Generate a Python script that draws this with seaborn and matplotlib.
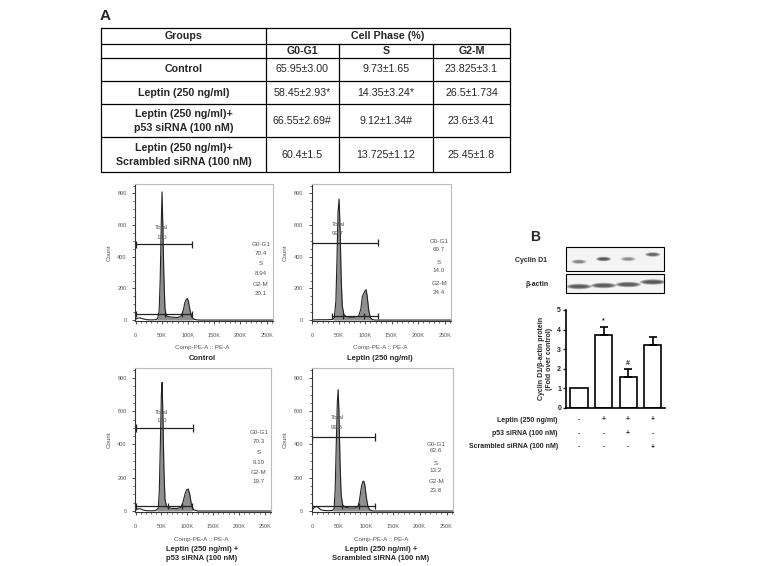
import numpy as np
import matplotlib
matplotlib.use('Agg')
import matplotlib.pyplot as plt
import matplotlib.transforms as mtrans
from matplotlib.patches import Rectangle, Ellipse
import seaborn as sns

# ---- table A ----
groups = ["Control", "Leptin (250 ng/ml)", "Leptin (250 ng/ml)+\np53 siRNA (100 nM)",
          "Leptin (250 ng/ml)+\nScrambled siRNA (100 nM)"]
phases = ["G0-G1", "S", "G2-M"]
g0g1 = ["65.95±3.00", "58.45±2.93*", "66.55±2.69#", "60.4±1.5"]
s_phase = ["9.73±1.65", "14.35±3.24*", "9.12±1.34#", "13.725±1.12"]
g2m = ["23.825±3.1", "26.5±1.734", "23.6±3.41", "25.45±1.8"]

# ---- flow histograms (x in K, counts) ----
ctrl_x = [0, 4, 8, 12, 16, 22, 30, 38, 42, 45, 47, 49, 50.5, 52, 54, 56, 58, 62, 70, 80, 87, 91, 94, 97, 99, 101, 104, 107, 112, 120, 262]
ctrl_y = [4, 12, 14, 10, 6, 2, 1, 2, 8, 60, 250, 600, 810, 600, 280, 80, 30, 22, 18, 16, 25, 60, 110, 132, 136, 115, 60, 20, 4, 0, 0]
lep_x = [0, 10, 20, 30, 38, 42, 45, 47, 49, 51, 53, 55, 57, 60, 64, 70, 80, 88, 92, 95, 97, 100, 102, 104, 107, 110, 114, 120, 262]
lep_y = [0, 2, 2, 2, 4, 15, 120, 380, 680, 765, 560, 260, 90, 35, 22, 18, 18, 25, 70, 150, 165, 185, 192, 150, 60, 15, 3, 0, 0]
p53_x = [0, 4, 8, 12, 16, 22, 30, 38, 44, 46, 48, 50, 51.5, 53, 55, 57, 60, 64, 70, 80, 88, 92, 96, 99, 102, 105, 108, 112, 120, 262]
p53_y = [4, 12, 14, 10, 5, 2, 1, 2, 15, 120, 400, 700, 774, 560, 240, 70, 28, 20, 16, 15, 22, 55, 105, 128, 132, 100, 40, 8, 0, 0]
scr_x = [0, 4, 8, 12, 16, 22, 30, 38, 41, 43, 45, 47, 48.5, 50, 52, 54, 57, 62, 70, 80, 85, 88, 91, 94, 96, 98, 101, 104, 108, 114, 262]
scr_y = [5, 20, 28, 20, 8, 3, 2, 3, 15, 130, 400, 650, 730, 600, 300, 100, 35, 22, 18, 18, 25, 60, 130, 175, 180, 160, 80, 25, 5, 0, 0]

panel_titles = ["Control", "Leptin (250 ng/ml)", "Leptin (250 ng/ml) +\np53 siRNA (100 nM)",
                "Leptin (250 ng/ml) +\nScrambled siRNA (100 nM)"]
panel_total = ["100", "99.7", "100", "99.8"]
panel_g1 = ["70.4", "60.7", "70.3", "62.6"]
panel_s = ["8.94", "14.0", "9.10", "13.2"]
panel_g2 = ["20.1", "24.4", "19.7", "23.8"]
total_gate_y = [480, 490, 500, 445]
total_gate_end = [107, 124, 112, 117]
sub_gate_y = [38, 27, 30, 29]
sub_gate_cuts = [[0, 57, 88, 107], [38, 59, 98, 124], [0, 63, 90, 110], [0, 56, 88, 117]]

# ---- panel B ----
bar_groups = ["Control", "Leptin", "Leptin+p53 siRNA", "Leptin+Scrambled siRNA"]
fold = [1.0, 3.72, 1.55, 3.2]
fold_err = [0.0, 0.42, 0.42, 0.4]
bar_marks = ["", "*", "#", ""]
treat_rows = ["Leptin (250 ng/ml)", "p53 siRNA (100 nM)", "Scrambled siRNA (100 nM)"]
treat_signs = [["-", "+", "+", "+"], ["-", "-", "+", "-"], ["-", "-", "-", "+"]]
cyclin_band = [0.55, 0.9, 0.5, 0.8]
actin_band = [0.85, 0.85, 0.85, 0.9]

sns.set_style("white")
plt.rcParams['font.family'] = ['Liberation Sans', 'DejaVu Sans']

W, H = 779, 566
fig = plt.figure(figsize=(W / 100, H / 100), dpi=100)


def box(x0, y0, x1, y1):
    return [x0 / W, 1 - y1 / H, (x1 - x0) / W, (y1 - y0) / H]


ov = fig.add_axes([0, 0, 1, 1])
ov.set_xlim(0, W)
ov.set_ylim(H, 0)
ov.axis('off')

# table
ov.text(100, 16, "A", fontsize=11, fontweight='bold', va='center')
row_y = [27.7, 43.7, 57.7, 81, 104.3, 137.3, 172.3]
col_x = [101.5, 265.7, 338.7, 433, 510]
for y in row_y:
    ov.plot([col_x[0], col_x[-1]], [y, y], color='black', lw=0.9)
for i, x in enumerate(col_x):
    top = row_y[1] if i in (2, 3) else row_y[0]
    ov.plot([x, x], [top, row_y[-1]], color='black', lw=0.9)
tk = dict(fontsize=7.7, ha='center', va='center')
ov.text((col_x[0] + col_x[1]) / 2, (row_y[0] + row_y[1]) / 2, "Groups", fontweight='bold', **tk)
ov.text((col_x[1] + col_x[-1]) / 2, (row_y[0] + row_y[1]) / 2, "Cell Phase (%)", fontweight='bold', **tk)
for j, ph in enumerate(phases):
    ov.text((col_x[j + 1] + col_x[j + 2]) / 2, (row_y[1] + row_y[2]) / 2, ph, fontweight='bold', **tk)
for i, g in enumerate(groups):
    yc = (row_y[i + 2] + row_y[i + 3]) / 2
    ov.text((col_x[0] + col_x[1]) / 2, yc, g, fontweight='bold', linespacing=1.45, **tk)
    for j, vals in enumerate([g0g1, s_phase, g2m]):
        ov.text((col_x[j + 1] + col_x[j + 2]) / 2, yc, vals[i], **tk)

# flow histograms
hist_data = [(ctrl_x, ctrl_y), (lep_x, lep_y), (p53_x, p53_y), (scr_x, scr_y)]
hist_boxes = [(135, 184, 273, 321), (311.5, 184, 451, 321), (135, 368, 271, 512), (311.5, 368, 453, 512)]
fill_range = [(42, 108), (40, 124), (43, 110), (39, 117)]
txt_x = [0.91, 0.914, 0.91, 0.88]
txt_y = [[0.56, 0.495, 0.42, 0.35, 0.265, 0.20],
         [0.58, 0.52, 0.43, 0.37, 0.275, 0.21],
         [0.55, 0.49, 0.41, 0.345, 0.275, 0.215],
         [0.47, 0.43, 0.34, 0.29, 0.21, 0.15]]
tot_xy = [(0.195, 0.68, 0.613), (0.19, 0.706, 0.64), (0.198, 0.694, 0.632), (0.18, 0.653, 0.585)]
grey = '#555555'
for k, (hx, hy) in enumerate(hist_data):
    x0, y0, x1, y1 = hist_boxes[k]
    ax = fig.add_axes(box(x0, y0, x1, y1))
    hx = np.array(hx, dtype=float)
    hy = np.array(hy, dtype=float)
    lo, hi = fill_range[k]
    ax.fill_between(hx, hy, where=(hx >= lo) & (hx <= hi), interpolate=True, color='#8f8f8f', lw=0)
    sns.lineplot(x=hx, y=hy, ax=ax, color='#222222', lw=0.8, sort=False)
    # gates
    gy = total_gate_y[k]
    ax.plot([0, total_gate_end[k]], [gy, gy], color='#222222', lw=0.9)
    ax.vlines([0, total_gate_end[k]], gy - 22, gy + 22, color='#222222', lw=0.9)
    sy = sub_gate_y[k]
    cuts = sub_gate_cuts[k]
    ax.plot([cuts[0], cuts[-1]], [sy, sy], color='#222222', lw=0.9)
    ax.vlines(cuts, sy - 18, sy + 18, color='#222222', lw=0.9)
    ax.set_xlim(-1, 262)
    ax.set_ylim(-6, 860)
    ax.set_xticks([0, 50, 100, 150, 200, 250])
    ax.set_xticklabels(["0", "50K", "100K", "150K", "200K", "250K"])
    ax.set_xticks(np.arange(0, 261, 10), minor=True)
    ax.set_yticks([0, 200, 400, 600, 800])
    ax.set_yticks(np.arange(0, 851, 50), minor=True)
    ax.tick_params(which='major', direction='out', length=2.5, width=0.6, labelsize=4,
                   labelcolor=grey, color='#333333', bottom=True, left=True)
    ax.tick_params(axis='x', which='major', pad=6)
    ax.tick_params(which='minor', direction='out', length=1.3, width=0.5, color='#333333',
                   bottom=True, left=True)
    for s in ['left', 'bottom']:
        ax.spines[s].set_color('#333333')
        ax.spines[s].set_linewidth(0.8)
    for s in ['top', 'right']:
        ax.spines[s].set_color('#bbbbbb')
        ax.spines[s].set_linewidth(0.8)
    ax.set_xlabel("")
    ax.set_ylabel("Count", fontsize=4.5, color=grey, labelpad=4)
    tx = txt_x[k]
    labs = ["G0-G1", panel_g1[k], "S", panel_s[k], "G2-M", panel_g2[k]]
    for lab, ty in zip(labs, txt_y[k]):
        ax.text(tx, ty, lab, transform=ax.transAxes, fontsize=4.5, color=grey, ha='center', va='center')
    px, py1, py2 = tot_xy[k]
    ax.text(px, py1, "Total", transform=ax.transAxes, fontsize=4.5, color=grey, ha='center', va='center')
    ax.text(px, py2, panel_total[k], transform=ax.transAxes, fontsize=4.5, color=grey, ha='center', va='center')
    xc = x0 + (x1 - x0) * 0.49
    ov.text(xc, y1 + 27, "Comp-PE-A :: PE-A", fontsize=4.5, color=grey, ha='center', va='center')
    ov.text(xc, y1 + 42 if k >= 2 else y1 + 38, panel_titles[k], fontsize=5.5, fontweight='bold',
            ha='center', va='center', linespacing=1.3)

# panel B bar chart
bx = fig.add_axes(box(566, 310, 665, 407.7))
sns.barplot(x=bar_groups, y=fold, ax=bx, color='white', edgecolor='black', linewidth=1.2,
            width=0.7, errorbar=None)
for i in range(len(fold)):
    if fold_err[i] > 0:
        bx.errorbar(i, fold[i], yerr=[[0], [fold_err[i]]], fmt='none', ecolor='black',
                    elinewidth=1.2, capsize=3, capthick=1.2)
    if bar_marks[i]:
        bx.text(i, fold[i] + fold_err[i] + 0.12, bar_marks[i], ha='center', va='bottom',
                fontsize=5, fontweight='bold')
bx.set_xlim(-0.53, 3.5)
bx.set_ylim(0, 5)
bx.set_xticks([])
bx.set_yticks(range(6))
bx.tick_params(axis='y', direction='out', length=2.5, width=1, labelsize=5, pad=1, left=True)
for lab in bx.get_yticklabels():
    lab.set_fontweight('bold')
for s in ['top', 'right']:
    bx.spines[s].set_visible(False)
for s in ['left', 'bottom']:
    bx.spines[s].set_color('black')
    bx.spines[s].set_linewidth(1.2)
bx.set_ylabel("Cyclin D1/β-actin protein\n(Fold over control)", fontsize=5, fontweight='bold',
              labelpad=3, linespacing=1.2)

tr = mtrans.blended_transform_factory(bx.transData, ov.transData)
row_py = [420, 433.5, 447]
for r, lab in enumerate(treat_rows):
    ov.text(558, row_py[r], lab, fontsize=5, fontweight='bold', ha='right', va='center')
    for i, sg in enumerate(treat_signs[r]):
        ov.text(i, row_py[r], sg, transform=tr, fontsize=5, fontweight='bold', ha='center', va='center')

# western blot
ov.text(530, 237, "B", fontsize=10, fontweight='bold', va='center')
ov.add_patch(Rectangle((566, 247), 98, 24, facecolor='#f4f4f4', edgecolor='black', lw=0.8))
ov.add_patch(Rectangle((566, 274), 98, 19, facecolor='#f4f4f4', edgecolor='black', lw=0.8))
cyc_y = [261.7, 259, 259, 254.5]
act_y = [286.5, 285.5, 284.5, 282]
for i in range(4):
    for s in range(4):
        ov.add_patch(Ellipse((i, cyc_y[i]), width=0.62 * (1 - 0.15 * s), height=4.5 * (1 - 0.2 * s),
                             transform=tr, color='#1a1a1a', alpha=0.3 * cyclin_band[i], lw=0))
        ov.add_patch(Ellipse((i, act_y[i]), width=1.05 * (1 - 0.12 * s), height=5.5 * (1 - 0.2 * s),
                             transform=tr, color='#1a1a1a', alpha=0.3 * actin_band[i], lw=0))
ov.text(547, 260, "Cyclin D1", fontsize=5, fontweight='bold', ha='right', va='center')
ov.annotate("", xy=(566, 260), xytext=(548, 260), arrowprops=dict(arrowstyle='->', lw=0.8))
ov.text(549, 284, "β-actin", fontsize=5, fontweight='bold', ha='right', va='center')
ov.annotate("", xy=(566, 284), xytext=(550, 284), arrowprops=dict(arrowstyle='->', lw=0.8))

fig.savefig('out.png', dpi=100)
